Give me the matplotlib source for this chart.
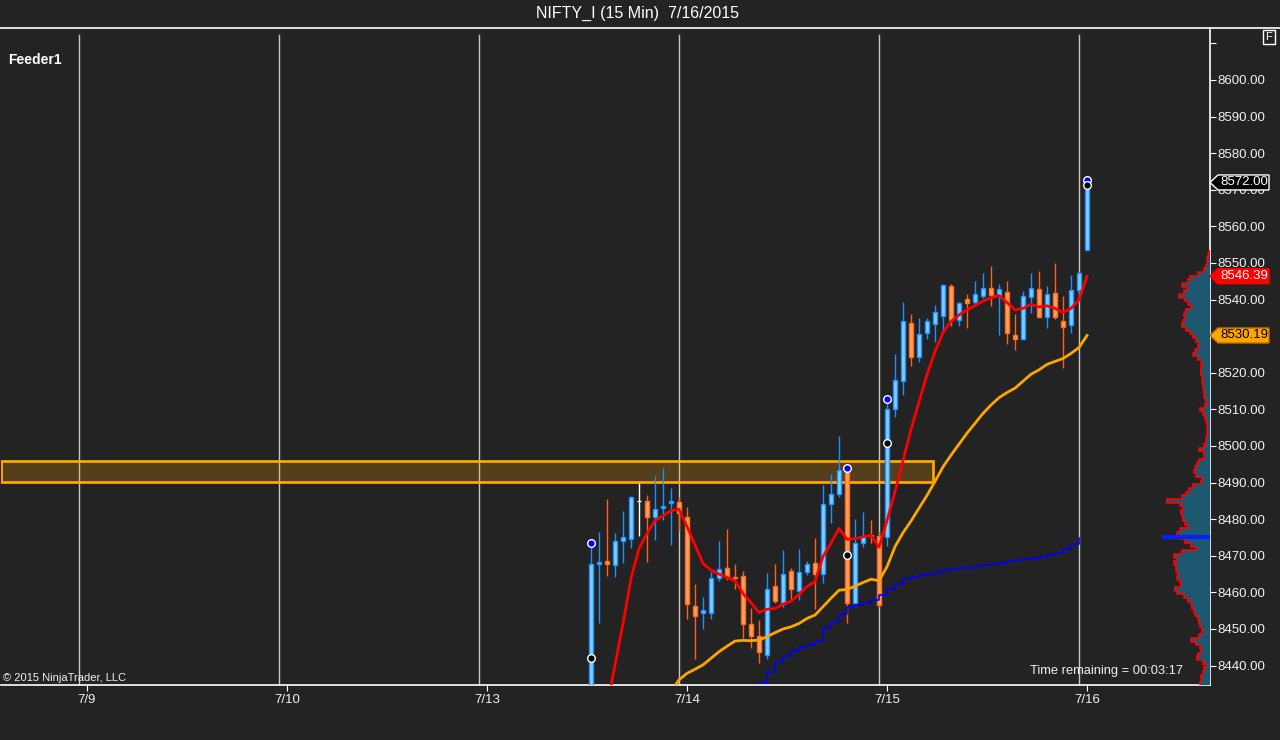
import numpy as np
import matplotlib
matplotlib.use("Agg")
import matplotlib.pyplot as plt
from matplotlib import transforms
from matplotlib.patches import Polygon, Rectangle
from matplotlib.lines import Line2D

plt.rcParams['font.family'] = ['Liberation Sans', 'DejaVu Sans']

BG = '#232323'

title = "NIFTY_I (15 Min)  7/16/2015"
day_labels = ["7/9", "7/10", "7/13", "7/14", "7/15", "7/16"]
day_first_bar = [11, 36, 61, 86, 111, 136]

# 15 min bars, index = bar slot on the chart
bars = np.arange(74, 137)
opens = [8425.0, 8467.8, 8468.5, 8467.4, 8474.0, 8474.7, 8484.9, 8485.1, 8480.7, 8483.0,
         8484.5, 8484.6, 8480.7, 8456.4, 8454.3, 8454.3, 8463.9, 8466.6, 8464.1, 8464.4,
         8451.5, 8448.0, 8442.8, 8461.8, 8456.8, 8465.8, 8460.3, 8465.5, 8467.9, 8464.9,
         8484.1, 8486.8, 8493.4, 8457.2, 8473.4, 8475.8, 8475.5, 8475.0, 8510.0, 8517.8,
         8533.5, 8524.4, 8531.0, 8533.2, 8535.6, 8543.7, 8534.5, 8540.1, 8539.4, 8541.1,
         8543.2, 8541.3, 8542.0, 8530.2, 8529.1, 8540.8, 8542.8, 8535.2, 8541.7, 8534.1,
         8533.0, 8542.5, 8553.5]
highs = [8473.4, 8476.6, 8485.5, 8476.2, 8482.2, 8486.3, 8489.8, 8486.5, 8491.8, 8494.0,
         8488.5, 8486.2, 8483.2, 8462.2, 8458.7, 8465.6, 8474.0, 8477.2, 8467.8, 8465.8,
         8455.7, 8452.5, 8465.3, 8467.7, 8471.7, 8466.8, 8471.9, 8468.6, 8474.9, 8489.3,
         8492.3, 8502.7, 8494.0, 8480.0, 8481.9, 8479.7, 8476.9, 8512.8, 8525.1, 8539.3,
         8536.1, 8535.0, 8535.0, 8538.5, 8544.3, 8544.3, 8539.4, 8541.5, 8545.1, 8547.3,
         8549.2, 8544.2, 8545.1, 8536.1, 8542.3, 8547.3, 8547.8, 8543.6, 8550.0, 8541.0,
         8546.7, 8547.5, 8572.5]
lows = [8424.0, 8451.7, 8464.6, 8464.3, 8468.1, 8472.0, 8475.4, 8468.4, 8474.3, 8479.8,
        8473.0, 8476.9, 8452.8, 8441.7, 8450.1, 8452.8, 8463.0, 8463.4, 8460.8, 8447.6,
        8444.9, 8440.8, 8441.7, 8457.0, 8456.1, 8457.9, 8457.9, 8464.8, 8455.6, 8462.5,
        8478.9, 8486.2, 8451.7, 8456.1, 8472.3, 8473.4, 8456.0, 8472.7, 8507.8, 8513.8,
        8521.8, 8522.9, 8529.3, 8528.5, 8531.5, 8532.8, 8532.9, 8532.3, 8538.5, 8540.4,
        8538.3, 8530.2, 8528.0, 8526.3, 8529.1, 8536.4, 8535.2, 8532.1, 8534.8, 8521.4,
        8531.0, 8541.0, 8553.5]
closes = [8467.8, 8468.2, 8467.7, 8474.0, 8475.0, 8486.0, 8484.9, 8480.7, 8482.9, 8483.5,
          8485.0, 8481.6, 8456.7, 8453.5, 8455.2, 8463.8, 8466.3, 8464.1, 8463.8, 8451.5,
          8448.0, 8443.6, 8460.8, 8457.6, 8464.9, 8460.8, 8465.5, 8467.7, 8464.9, 8484.1,
          8486.8, 8493.4, 8457.0, 8473.4, 8475.5, 8475.5, 8456.6, 8510.0, 8518.0, 8534.2,
          8524.4, 8530.6, 8534.2, 8536.6, 8543.9, 8534.5, 8539.0, 8539.0, 8541.5, 8543.2,
          8541.3, 8542.9, 8531.0, 8529.1, 8540.9, 8543.1, 8535.2, 8541.4, 8535.2, 8532.4,
          8542.5, 8547.2, 8572.0]

# fast average (red), bars 74..136
fast_ma = [8407.0, 8418.0, 8429.0, 8440.1, 8451.5, 8463.8, 8472.0, 8476.1, 8479.6, 8480.9,
           8482.3, 8482.7, 8478.0, 8473.0, 8467.9, 8466.1, 8465.0, 8464.1, 8463.2, 8459.7,
           8457.2, 8454.5, 8455.4, 8455.6, 8456.8, 8457.6, 8459.4, 8461.6, 8462.9, 8469.8,
           8473.4, 8477.5, 8474.5, 8474.7, 8475.2, 8475.6, 8472.3, 8479.6, 8487.5, 8496.0,
           8504.5, 8512.0, 8519.5, 8525.8, 8531.0, 8534.0, 8535.8, 8537.2, 8538.3, 8539.6,
           8540.5, 8541.1, 8539.2, 8537.2, 8537.6, 8538.7, 8538.0, 8538.3, 8537.6, 8536.5,
           8537.6, 8539.9, 8546.39]
# slow average (orange), bars 84..136
slow_bars = np.arange(84, 137)
slow_ma = [8433.0, 8436.1, 8437.9, 8439.0, 8440.2, 8442.0, 8443.8, 8445.3, 8446.7, 8446.9,
           8446.8, 8447.0, 8447.9, 8449.0, 8450.0, 8450.6, 8451.5, 8452.9, 8453.8, 8456.1,
           8458.4, 8460.6, 8460.8, 8461.7, 8462.7, 8463.6, 8463.2, 8467.0, 8472.5, 8476.3,
           8479.5, 8483.0, 8486.5, 8490.3, 8494.3, 8497.5, 8500.5, 8503.5, 8506.2, 8508.9,
           8511.2, 8513.2, 8514.6, 8515.8, 8517.7, 8519.6, 8520.8, 8522.3, 8523.1, 8523.9,
           8525.3, 8526.9, 8530.19]
# stepped trail (blue), bars 95..135
trail_bars = np.arange(95, 136)
trail = [8435.3, 8438.2, 8441.1, 8442.6, 8444.0, 8445.2, 8445.6, 8446.7, 8450.2, 8451.8,
         8454.0, 8455.9, 8456.6, 8457.2, 8457.9, 8459.3, 8460.8, 8462.3, 8463.6, 8464.3,
         8464.7, 8465.0, 8465.5, 8466.0, 8466.3, 8466.6, 8466.8, 8467.2, 8467.5, 8467.8,
         8468.1, 8468.5, 8468.9, 8469.2, 8469.5, 8469.8, 8470.1, 8470.7, 8471.8, 8473.2,
         8474.8]

swing_bars = [74, 106, 111, 136]
swing_high = [8473.4, 8494.0, 8512.8, 8572.7]
swing_mark = [8442.0, 8470.1, 8500.7, 8571.2]

zone_bars = (0.25, 116.7)
zone_prices = (8490.2, 8495.9)

# volume profile, one value per point from 8435 to 8553
vp_prices = np.arange(8435, 8554)
vp_volume = [10, 9, 9, 7, 6, 4, 7, 13, 12, 9,
             10, 14, 19, 11, 8, 8, 10, 11, 12, 15,
             16, 18, 19, 22, 26, 33, 35, 29, 30, 33,
             32, 34, 34, 36, 33, 36, 28, 14, 19, 25,
             30, 33, 30, 22, 25, 27, 28, 29, 27, 30,
             43, 28, 24, 21, 17, 9, 8, 14, 16, 15,
             13, 11, 6, 6, 11, 6, 4, 4, 3, 3,
             3, 3, 4, 5, 7, 10, 5, 4, 5, 6,
             6, 7, 7, 8, 8, 9, 9, 8, 9, 12,
             17, 15, 12, 12, 14, 17, 20, 24, 28, 27,
             25, 26, 24, 19, 22, 25, 31, 26, 23, 28,
             22, 20, 12, 6, 4, 3, 3, 2, 1]
poc_price = 8475
poc_volume = 48

fig = plt.figure(figsize=(12.8, 7.4), dpi=100, facecolor=BG)
ax = fig.add_axes([1 / 1280, 55 / 740, 1209 / 1280, 657 / 740], facecolor=BG)
ax.set_xlim(0.25, 151.375)
ax.set_ylim(8434.7, 8614.2)

for s in ['top', 'left']:
    ax.spines[s].set_visible(False)
for s in ['bottom', 'right']:
    ax.spines[s].set_color('white')
    ax.spines[s].set_linewidth(1.2)

yt = np.arange(8440, 8611, 10)
ax.yaxis.tick_right()
ax.set_yticks(yt)
ax.set_yticklabels([f"{v:.2f}" if v <= 8600 else "" for v in yt])
ax.set_xticks(day_first_bar)
ax.set_xticklabels(day_labels)
ax.tick_params(axis='y', colors='white', labelcolor='#f2f2f2', length=4.5, pad=1, labelsize=9.5)
ax.tick_params(axis='x', colors='white', labelcolor='#f2f2f2', length=4.3, pad=2.5, labelsize=9.5)

for b in day_first_bar:
    ax.axvline(b - 1, color='#c8c8c8', lw=1, ymax=0.99, zorder=1)

# supply zone
zone = Rectangle((zone_bars[0], zone_prices[0]), zone_bars[1] - zone_bars[0],
                 zone_prices[1] - zone_prices[0], facecolor=(1, 0.65, 0, 0.22),
                 edgecolor='#FFA500', lw=2, zorder=2)
ax.add_patch(zone)

# candles
o = np.array(opens); h = np.array(highs); l = np.array(lows); c = np.array(closes)
up = c > o
down = c < o
wick_col = np.where(up, '#1E90FF', np.where(down, '#FF6020', '#FFFFFF'))
body_col = np.where(up, '#87CEFA', np.where(down, '#F4A460', '#FFFFFF'))
edge_col = np.where(up, '#1E90FF', np.where(down, '#FF6A20', '#FFFFFF'))
ax.vlines(bars, l, h, colors=wick_col, lw=1, zorder=3)
ax.bar(bars, np.abs(c - o), bottom=np.minimum(o, c), width=0.62,
       color=body_col, edgecolor=edge_col, lw=1, zorder=4)

ax.plot(trail_bars, trail, color='#0000FF', lw=1.2, drawstyle='steps-post', zorder=4)
ax.plot(slow_bars, slow_ma, color='#FFA500', lw=2, zorder=5)
ax.plot(bars, fast_ma, color='#FF0000', lw=2, zorder=5)

ax.scatter(swing_bars, swing_high, s=30, color='#0000FF', edgecolor='white', lw=1, zorder=6)
ax.scatter(swing_bars, swing_mark, s=30, color='black', edgecolor='white', lw=1, zorder=6)

# volume profile on the right edge
axv = fig.add_axes(ax.get_position(), sharey=ax)
axv.set_xlim(1209, 0)
axv.axis('off')
axv.patch.set_visible(False)
edges = np.append(vp_prices - 0.5, vp_prices[-1] + 0.5)
axv.stairs(vp_volume, edges, orientation='horizontal', baseline=0, fill=True,
           color='#1d5870')
axv.stairs(vp_volume, edges, orientation='horizontal', baseline=None, color='#FF0000', lw=1.2)
axv.hlines(poc_price, 0, poc_volume, color='#0022FF', lw=3)
ax.set_ylim(8434.7, 8614.2)


def price_tag(price, face, edge, tcolor):
    anchor = transforms.ScaledTranslation(1.0, price, ax.get_yaxis_transform())
    verts = np.array([(0, 0), (8, 7.5), (59, 7.5), (59, -7.5), (8, -7.5)]) / 100
    poly = Polygon(verts, closed=True, facecolor=face, edgecolor=edge, lw=1,
                   transform=fig.dpi_scale_trans + anchor, clip_on=False, zorder=20)
    ax.add_patch(poly)
    ax.annotate(f"{price:.2f}", xy=(1.0, price), xycoords=ax.get_yaxis_transform(),
                xytext=(10, 0), textcoords='offset pixels', ha='left', va='center',
                fontsize=9.5, color=tcolor, zorder=21, annotation_clip=False)


price_tag(closes[-1], 'black', 'white', 'white')
price_tag(fast_ma[-1], '#FF0000', '#FF0000', 'white')
price_tag(slow_ma[-1], '#FFA500', '#C07000', 'black')

# header / labels
fig.add_artist(Line2D([0, 1], [1 - 27.5 / 740] * 2, color='white', lw=1.2,
                      transform=fig.transFigure))
fig.text(637 / 1280, 1 - 13 / 740, title, ha='center', va='center', fontsize=11.5, color='white')
fig.text(8 / 1280, 1 - 60 / 740, "Feeder1", ha='left', va='center', fontsize=10,
         fontweight='bold', color='white')
fig.text(3 / 1280, 1 - 678 / 740, "© 2015 NinjaTrader, LLC", ha='left', va='center',
         fontsize=8, color='#f0f0f0')
fig.text(1183 / 1280, 1 - 671 / 740, "Time remaining = 00:03:17", ha='right', va='center',
         fontsize=9.3, color='#f0f0f0')
fig.text(1269 / 1280, 1 - 37 / 740, "F", ha='center', va='center', fontsize=8, color='white',
         bbox=dict(boxstyle='square,pad=0.2', facecolor=BG, edgecolor='white', lw=1))

fig.savefig('out.png', dpi=100, facecolor=BG)
